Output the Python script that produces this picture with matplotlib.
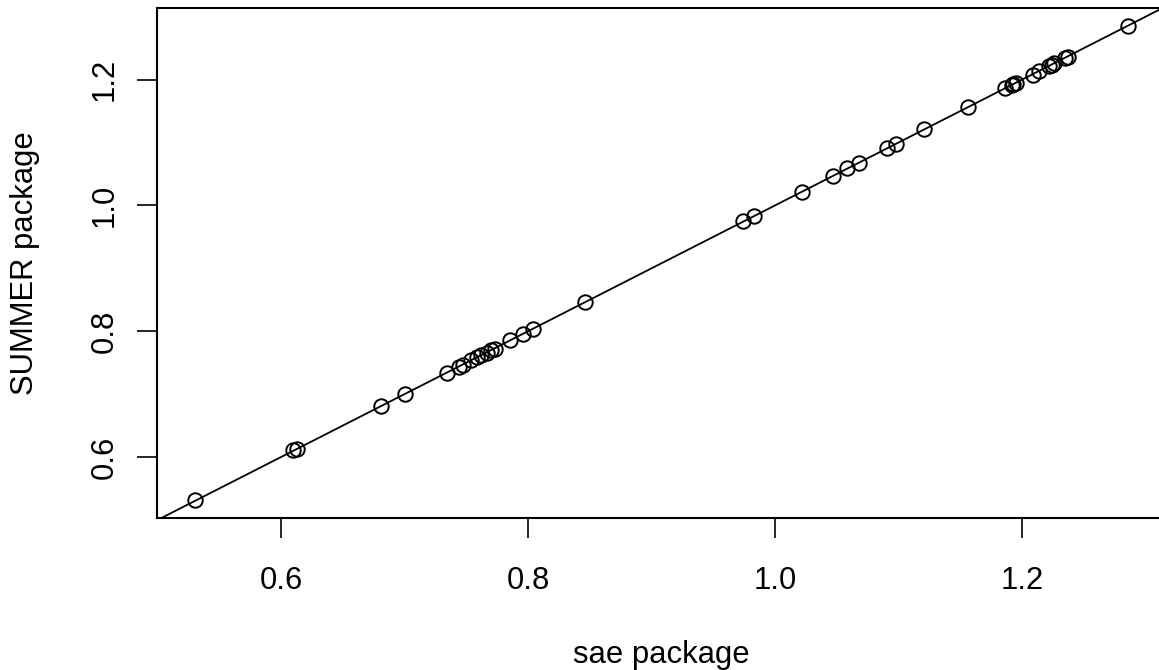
import matplotlib
matplotlib.use("Agg")
import matplotlib.pyplot as plt

# Area-level estimates from the two packages
sae_est = [0.530, 0.610, 0.613, 0.681, 0.700, 0.734, 0.744, 0.747, 0.754, 0.759,
           0.762, 0.767, 0.770, 0.773, 0.785, 0.796, 0.804, 0.846, 0.974, 0.983,
           1.022, 1.047, 1.058, 1.068, 1.091, 1.098, 1.121, 1.156, 1.186, 1.192,
           1.193, 1.195, 1.209, 1.214, 1.222, 1.224, 1.226, 1.235, 1.237, 1.286]
summer_est = [0.532, 0.611, 0.613, 0.681, 0.700, 0.734, 0.743, 0.747, 0.754, 0.759,
              0.763, 0.766, 0.770, 0.772, 0.786, 0.795, 0.803, 0.847, 0.975, 0.983,
              1.021, 1.047, 1.059, 1.067, 1.092, 1.097, 1.122, 1.156, 1.187, 1.191,
              1.193, 1.194, 1.208, 1.213, 1.221, 1.224, 1.227, 1.234, 1.236, 1.285]

x_ticks = [0.6, 0.8, 1.0, 1.2]
y_ticks = [0.6, 0.8, 1.0, 1.2]
tick_labels = ["0.6", "0.8", "1.0", "1.2"]

plt.rcParams["font.family"] = ["Liberation Sans", "DejaVu Sans"]

W, H = 1159, 670
fig = plt.figure(figsize=(W / 100, H / 100), dpi=100)
left, right, bottom, top = 157.3, 1165.5, 518.3, 8.3
ax = fig.add_axes([left / W, 1 - bottom / H, (right - left) / W, (bottom - top) / H])

ax.set_xlim(0.4998, 1.3162)
ax.set_ylim(0.5026, 1.3134)

# identity reference line
ax.axline((0.6, 0.6), (1.2, 1.2), color="black", lw=1.3, zorder=2)

ax.plot(sae_est, summer_est, linestyle="none", marker="o", markersize=10.4,
        markerfacecolor="none", markeredgecolor="black", markeredgewidth=1.4, zorder=3)

for s in ax.spines.values():
    s.set_linewidth(1.5)

fs = 22.3
ax.set_xticks(x_ticks)
ax.set_xticklabels(tick_labels, fontsize=fs)
ax.set_yticks(y_ticks)
ax.set_yticklabels(tick_labels, fontsize=fs, rotation=90, rotation_mode="anchor",
                   ha="center", va="baseline")
ax.tick_params(axis="x", direction="out", length=14.4, width=1.2, pad=20.2)
ax.tick_params(axis="y", direction="out", length=14.4, width=1.2, pad=17.5)

fig.text(661.4 / W, 1 - 663.3 / H, "sae package", fontsize=fs, ha="center", va="baseline")
fig.text(33.3 / W, 1 - 263.3 / H, "SUMMER package", fontsize=fs, rotation=90,
         rotation_mode="anchor", ha="center", va="baseline")

fig.savefig("out.png", dpi=100)
